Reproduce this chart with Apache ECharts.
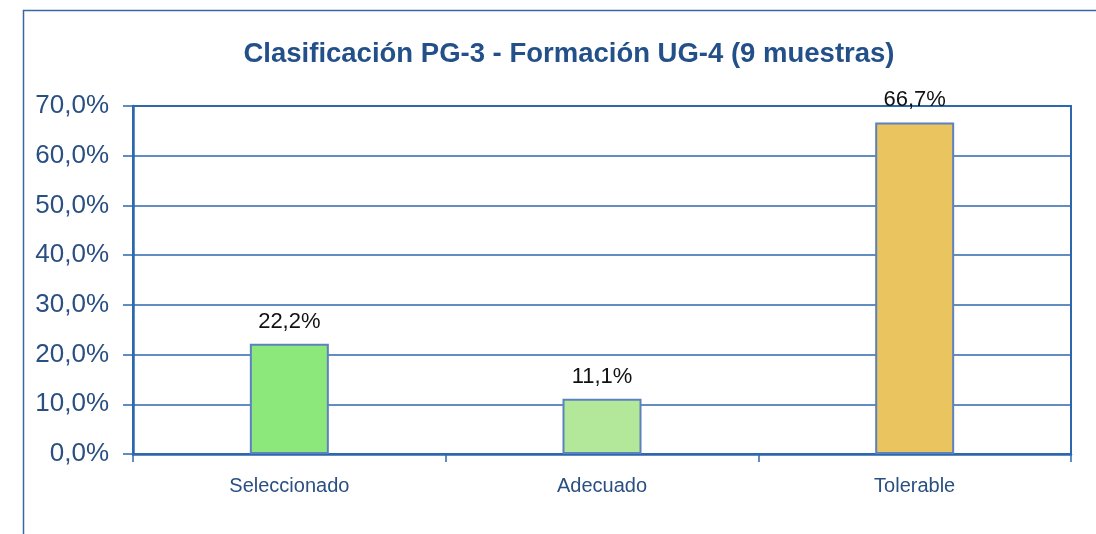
<!DOCTYPE html>
<html>
<head>
<meta charset="utf-8">
<script src="https://cdn.jsdelivr.net/npm/echarts@6/dist/echarts.min.js"></script>
<style>html,body{margin:0;padding:0;background:#fff}#c{width:1096px;height:534px}</style>
</head>
<body>
<div id="c"></div>
<script>
const titleText = 'Clasificación PG-3 - Formación UG-4 (9 muestras)';
const categories = ['Seleccionado', 'Adecuado', 'Tolerable'];
const values = [22.2, 11.1, 66.7];
const barColors = ['#8ce87a', '#b3e89b', '#e9c45f'];

const blue = '#2e67ad';
const chart = echarts.init(document.getElementById('c'), null, {renderer: 'canvas'});
chart.setOption({
  animation: false,
  backgroundColor: '#ffffff',
  title: {
    text: titleText,
    left: 564, top: 35, textAlign: 'center',
    textStyle: {fontFamily: 'Liberation Sans', fontWeight: 'bold', fontSize: 27.5, color: '#24508a'}
  },
  graphic: [{
    type: 'rect', silent: true,
    shape: {x: 23.5, y: 10.5, width: 1200, height: 700},
    style: {fill: 'none', stroke: '#3a66a4', lineWidth: 1.5}
  }],
  grid: {left: 133, right: 25, top: 106, bottom: 80, show: true, borderColor: blue, borderWidth: 2, backgroundColor: 'transparent'},
  xAxis: {
    type: 'category', data: categories,
    axisLine: {lineStyle: {color: blue, width: 2.5}},
    axisTick: {show: true, length: 8, lineStyle: {color: blue, width: 1.5}},
    axisLabel: {fontFamily: 'Liberation Sans', fontSize: 20, color: '#2a4f82', margin: 22}
  },
  yAxis: {
    type: 'value', min: 0, max: 70, interval: 10,
    axisLine: {show: true, lineStyle: {color: blue, width: 2.5}},
    axisTick: {show: true, length: 10, lineStyle: {color: blue, width: 1.5}},
    splitLine: {lineStyle: {color: blue, width: 1.6}},
    axisLabel: {
      fontFamily: 'Liberation Sans', fontSize: 26, color: '#2a4f82', margin: 24,
      formatter: v => v.toFixed(1).replace('.', ',') + '%'
    }
  },
  series: [{
    type: 'bar', barWidth: 79,
    data: values.map((v, i) => ({value: v, itemStyle: {color: barColors[i]}})),
    itemStyle: {borderColor: '#5b82be', borderWidth: 2},
    label: {
      show: true, position: 'top', distance: 11,
      fontFamily: 'Liberation Sans', fontSize: 22, color: '#111111',
      formatter: p => p.value.toFixed(1).replace('.', ',') + '%'
    }
  }]
});
</script>
</body>
</html>
